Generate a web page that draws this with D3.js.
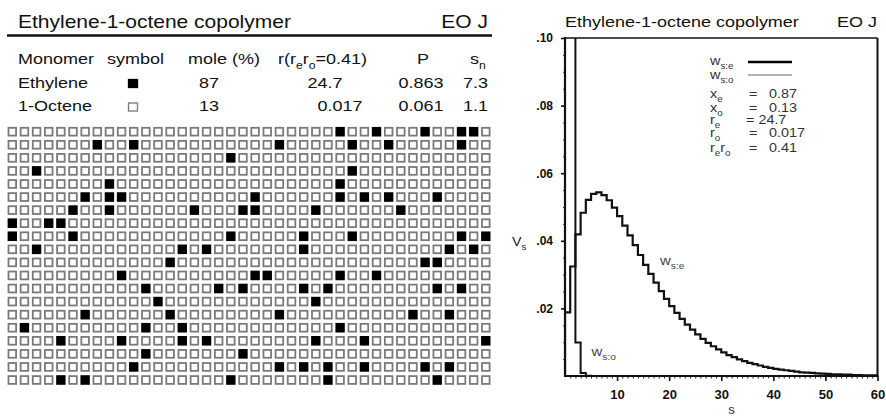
<!DOCTYPE html>
<html>
<head>
<meta charset="utf-8">
<script src="https://cdn.jsdelivr.net/npm/d3@7"></script>
<style>
  html, body { margin: 0; padding: 0; background: #fff; }
  svg { display: block; font-family: "Liberation Sans", Arial, Helvetica, sans-serif; }
</style>
</head>
<body>
<svg id="chart" width="886" height="417"></svg>
<script>
// ---------------- data ----------------
const titleText = "Ethylene-1-octene copolymer";
const tagText = "EO J";

// monomer table
const monomers = ["Ethylene", "1-Octene"];
const symbolKinds = ["filled", "open"];
const molePct = ["87", "13"];
const rValues = ["24.7", "0.017"];
const pValues = ["0.863", "0.061"];
const snValues = ["7.3", "1.1"];

// sequence map: 40 columns x 20 rows, filled cell column indices per row
const gridCols = 40;
const filledByRow = [
  [27, 30, 34, 37, 38],
  [7, 10, 22, 28, 31, 37],
  [18],
  [2, 28],
  [8, 27],
  [6, 8, 9, 20, 27, 29, 31, 35],
  [5, 8, 15, 19, 20, 25, 32],
  [0, 3, 4],
  [0, 5, 18, 24, 28, 37, 39],
  [2, 14, 16, 24, 36, 38],
  [13, 34, 35],
  [9, 20, 21, 27, 30],
  [11, 17, 19, 24, 26, 35, 37],
  [12, 25],
  [6, 13, 22, 33, 36],
  [1, 11, 14, 27],
  [4, 9, 14, 16, 25, 29, 39],
  [11, 19],
  [10, 22, 24, 26, 29, 34, 36],
  [4, 6, 18, 26, 35]
];

// weight fraction of ethylene sequences of length s = 1..60
const wSE = [
  0.0188, 0.0324, 0.0419, 0.0483, 0.0521, 0.0539, 0.0543, 0.0535, 0.0520, 0.0498,
  0.0473, 0.0445, 0.0416, 0.0387, 0.0358, 0.0329, 0.0302, 0.0276, 0.0251, 0.0228,
  0.0207, 0.0187, 0.0169, 0.0152, 0.0137, 0.0123, 0.0110, 0.0098, 0.0088, 0.0079,
  0.0070, 0.0062, 0.0056, 0.0049, 0.0044, 0.0039, 0.0035, 0.0031, 0.0027, 0.0024,
  0.0021, 0.0019, 0.0017, 0.0015, 0.0013, 0.0011, 0.0010, 0.0009, 0.0008, 0.0007,
  0.0006, 0.0005, 0.0005, 0.0004, 0.0004, 0.0003, 0.0003, 0.0002, 0.0002, 0.0002
];
// weight fraction of octene sequences of length s = 1..6
const wSO = [0.882, 0.108, 0.0099, 0.0009, 0.0001, 0.0000];

// axis ticks
const yTicks = [0.02, 0.04, 0.06, 0.08, 0.10];
const xTicks = [10, 20, 30, 40, 50, 60];

// legend parameters
const legendParams = [
  { name: "x", sub: "e", value: "0.87" },
  { name: "x", sub: "o", value: "0.13" },
  { name: "r", sub: "e", value: "24.7" },
  { name: "r", sub: "o", value: "0.017" },
  { name: "rr", sub: "eo", value: "0.41" }
];

// ---------------- helpers ----------------
const svg = d3.select("#chart");

// text with optional subscripts; parts are strings or {sub: "..."}
function rich(parent, x, y, parts, o = {}) {
  const size = o.size ?? 15;
  const sx = o.sx ?? 1.2;
  const t = parent.append("text")
    .attr("transform", `translate(${x},${y}) scale(${sx},1)`)
    .attr("font-size", size)
    .attr("font-weight", o.weight ?? "normal")
    .attr("fill", o.fill ?? "#111")
    .attr("text-anchor", o.anchor ?? "start");
  let down = false;
  const shift = size * 0.32;
  (Array.isArray(parts) ? parts : [parts]).forEach(p => {
    if (typeof p === "object") {
      const s = t.append("tspan").text(p.sub).attr("font-size", size * 0.68);
      if (!down) { s.attr("dy", shift); down = true; }
    } else {
      const s = t.append("tspan").text(p);
      if (down) { s.attr("dy", -shift); down = false; }
    }
  });
  return t;
}

// number aligned on its decimal point at xDot
function decimalText(parent, xDot, y, str, o = {}) {
  const sx = o.sx ?? 1.2;
  const t = parent.append("text")
    .attr("transform", `translate(${xDot},${y}) scale(${sx},1)`)
    .attr("font-size", o.size ?? 15)
    .attr("fill", o.fill ?? "#111")
    .text(str);
  const idx = str.indexOf(".");
  const w = idx > 0 ? t.node().getSubStringLength(0, idx) : 0;
  t.attr("x", -w);
  return t;
}

// ---------------- left panel: header & table ----------------
const left = svg.append("g");
rich(left, 18, 28, titleText, { size: 17.5 });
rich(left, 488, 28, tagText, { size: 17.5, anchor: "end" });
left.append("line").attr("x1", 7).attr("x2", 492).attr("y1", 35.5).attr("y2", 35.5)
  .attr("stroke", "#111").attr("stroke-width", 2.5);

const headerY = 64;
rich(left, 18, headerY, "Monomer");
rich(left, 107, headerY, "symbol");
rich(left, 188, headerY, "mole (%)");
rich(left, 278, headerY, ["r(r", { sub: "e" }, "r", { sub: "o" }, "=0.41)"]);
rich(left, 417, headerY, "P");
rich(left, 470, headerY, ["s", { sub: "n" }]);

const rowY = d3.scaleLinear().domain([0, 1]).range([87.5, 111]);
monomers.forEach((m, i) => {
  const yy = rowY(i);
  rich(left, 18, yy, m);
  left.append("rect")
    .attr("x", 128.5).attr("y", yy - 8).attr("width", 9).attr("height", 8)
    .attr("fill", symbolKinds[i] === "filled" ? "#000" : "#fff")
    .attr("stroke", symbolKinds[i] === "filled" ? "#000" : "#777")
    .attr("stroke-width", 1.3);
  rich(left, 209, yy, molePct[i], { anchor: "middle" });
  decimalText(left, 327.5, yy, rValues[i]);
  decimalText(left, 408.5, yy, pValues[i]);
  rich(left, 488, yy, snValues[i], { anchor: "end" });
});

// ---------------- left panel: sequence map ----------------
const gx = d3.scaleLinear().domain([0, gridCols - 1]).range([12.3, 485.8]);
const gy = d3.scaleLinear().domain([0, filledByRow.length - 1]).range([131.7, 380]);
const cells = [];
filledByRow.forEach((cols, r) => {
  const set = new Set(cols);
  d3.range(gridCols).forEach(c => cells.push({ r, c, on: set.has(c) }));
});
const cw = 9.4, ch = 9.6;
left.append("g").selectAll("rect").data(cells).join("rect")
  .attr("x", d => gx(d.c) - cw / 2 + 0.9)
  .attr("y", d => gy(d.r) - ch / 2 + 0.9)
  .attr("width", cw - 1.8)
  .attr("height", ch - 1.8)
  .attr("fill", d => d.on ? "#000" : "#fff")
  .attr("stroke", d => d.on ? "#000" : "#7a7a7a")
  .attr("stroke-width", 1.8);

// ---------------- right panel: distribution ----------------
const right = svg.append("g");
rich(right, 565, 27, titleText, { size: 15 });
rich(right, 877, 27, tagText, { size: 15, anchor: "end" });

const x = d3.scaleLinear().domain([0, 60]).range([565, 877.5]);
const y = d3.scaleLinear().domain([0, 0.10]).range([376, 38]);

right.append("clipPath").attr("id", "plotClip")
  .append("rect").attr("x", x(0)).attr("y", y(0.10))
  .attr("width", x(60) - x(0)).attr("height", y(0) - y(0.10));

// minor ticks
right.append("g").attr("transform", `translate(${x(0)},0)`)
  .call(d3.axisLeft(y).tickValues(d3.range(0.005, 0.1, 0.005)).tickSize(2).tickFormat(""))
  .call(g => g.select(".domain").remove())
  .call(g => g.selectAll("line").attr("stroke", "#444").attr("stroke-width", 1));
right.append("g").attr("transform", `translate(0,${y(0)})`)
  .call(d3.axisBottom(x).tickValues(d3.range(1, 60, 1)).tickSize(2.5).tickFormat(""))
  .call(g => g.select(".domain").remove())
  .call(g => g.selectAll("line").attr("stroke", "#222").attr("stroke-width", 1));

// major ticks & labels
right.append("g").attr("transform", `translate(${x(0)},0)`)
  .call(d3.axisLeft(y).tickValues(yTicks).tickSize(4).tickPadding(8)
    .tickFormat(d => d3.format(".2f")(d).replace(/^0/, "")))
  .call(g => g.select(".domain").remove())
  .call(g => g.selectAll("line").attr("stroke", "#111").attr("stroke-width", 1.6))
  .call(g => g.selectAll("text").attr("font-size", 12).attr("font-weight", "bold")
    .attr("fill", "#111").attr("font-family", "Liberation Sans, Arial, sans-serif"));
right.append("g").attr("transform", `translate(0,${y(0)})`)
  .call(d3.axisBottom(x).tickValues(xTicks).tickSize(5).tickPadding(9))
  .call(g => g.select(".domain").remove())
  .call(g => g.selectAll("line").attr("stroke", "#111").attr("stroke-width", 1.6))
  .call(g => g.selectAll("text").attr("font-size", 13).attr("font-weight", "bold")
    .attr("fill", "#111").attr("font-family", "Liberation Sans, Arial, sans-serif"));

// frame
right.append("line").attr("x1", x(0)).attr("x2", x(60)).attr("y1", y(0.10)).attr("y2", y(0.10))
  .attr("stroke", "#111").attr("stroke-width", 1.5);
right.append("line").attr("x1", x(60)).attr("x2", x(60)).attr("y1", y(0.10)).attr("y2", y(0))
  .attr("stroke", "#111").attr("stroke-width", 2);
right.append("line").attr("x1", x(0)).attr("x2", x(0)).attr("y1", y(0.10) - 1).attr("y2", y(0) + 1)
  .attr("stroke", "#111").attr("stroke-width", 2.2);
right.append("line").attr("x1", x(0) - 1).attr("x2", x(60) + 1).attr("y1", y(0)).attr("y2", y(0))
  .attr("stroke", "#111").attr("stroke-width", 2);

// step curves
const step = d3.line().x(d => x(d[0])).y(d => y(d[1])).curve(d3.curveStepBefore);
const seE = [[0, 0]].concat(wSE.map((v, i) => [i + 1, v]));
const seO = [[0, 0]].concat(wSO.map((v, i) => [i + 1, v]));
const curves = right.append("g").attr("clip-path", "url(#plotClip)");
curves.append("path").attr("d", step(seO)).attr("fill", "none")
  .attr("stroke", "#111").attr("stroke-width", 2);
curves.append("path").attr("d", step(seE)).attr("fill", "none")
  .attr("stroke", "#111").attr("stroke-width", 2.2);

// curve labels
rich(right, 660, 265, ["w", { sub: "s:e" }], { size: 13, fill: "#444", sx: 1.15 });
rich(right, 591.5, 356, ["w", { sub: "s:o" }], { size: 13, fill: "#444", sx: 1.15 });

// axis titles
rich(right, 512, 246, ["V", { sub: "s" }], { size: 13, fill: "#222", sx: 1.1 });
rich(right, x(32), 414, "s", { size: 12, fill: "#333", anchor: "middle", sx: 1.1 });

// legend
const lg = right.append("g");
rich(lg, 710, 65, ["w", { sub: "s:e" }], { size: 12.5, fill: "#333", sx: 1.15 });
rich(lg, 710, 79, ["w", { sub: "s:o" }], { size: 12.5, fill: "#333", sx: 1.15 });
lg.append("line").attr("x1", 748).attr("x2", 792).attr("y1", 62).attr("y2", 62)
  .attr("stroke", "#000").attr("stroke-width", 2.5);
lg.append("line").attr("x1", 748).attr("x2", 792).attr("y1", 75).attr("y2", 75)
  .attr("stroke", "#999").attr("stroke-width", 1.3);
const lgY = [98, 111.5, 124, 137, 151.5];
legendParams.forEach((p, i) => {
  const parts = p.sub.length === 2
    ? ["r", { sub: "e" }, "r", { sub: "o" }]
    : [p.name, { sub: p.sub }];
  rich(lg, 710, lgY[i], parts, { size: 12.5, fill: "#333", sx: 1.15 });
  if (p.value === "24.7") {
    rich(lg, 746, lgY[i], "= " + p.value, { size: 12.5, fill: "#333", sx: 1.15 });
  } else {
    rich(lg, 749, lgY[i], "=", { size: 12.5, fill: "#333", sx: 1.15 });
    rich(lg, 769, lgY[i], p.value, { size: 12.5, fill: "#333", sx: 1.15 });
  }
});
</script>
</body>
</html>
